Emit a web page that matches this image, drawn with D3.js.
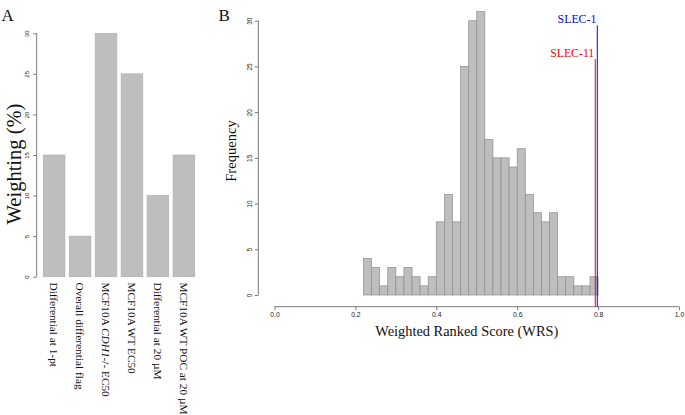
<!DOCTYPE html>
<html><head><meta charset="utf-8">
<script src="https://cdn.jsdelivr.net/npm/d3@7"></script>
<style>
html,body{margin:0;padding:0;background:#fff;}
svg{display:block;}
</style></head>
<body>
<svg id="chart" width="685" height="415"></svg>
<script>
// ---- Panel A data ----
const weightCategories = [
  "Differential at 1-pt",
  "Overall differential flag",
  "MCF10A CDH1-/- EC50",
  "MCF10A WT EC50",
  "Differential at  20 \u00B5M",
  "MCF10A WT POC at 20 \u00B5M"
];
const weightValues = [15, 5, 30, 25, 10, 15];
const weightTicks = [0, 5, 10, 15, 20, 25, 30];

// ---- Panel B data ----
const binStarts = [0.22,0.24,0.26,0.28,0.30,0.32,0.34,0.36,0.38,0.40,0.42,0.44,0.46,0.48,0.50,0.52,0.54,0.56,0.58,0.60,0.62,0.64,0.66,0.68,0.70,0.72,0.74,0.76,0.78];
const binCounts = [4,3,1,3,2,3,2,1,2,8,11,8,25,30,31,17,15,15,14,16,11,9,8,9,2,2,1,1,2];
const binWidth = 0.02;
const freqTicks = [0, 5, 10, 15, 20, 25, 30];
const wrsTicks = [0.0, 0.2, 0.4, 0.6, 0.8, 1.0];
const slecNames = ["SLEC-1", "SLEC-11"];
const slecScores = [0.798, 0.793];
const slecHeights = [29.5, 25.8];
const slecColors = ["#0000ff", "#ff0000"];

const svg = d3.select("#chart");
const serif = "'Liberation Serif', 'Times New Roman', serif";
const sans = "'Liberation Sans', Arial, sans-serif";
const axisCol = "#7a7a7a";
const tickTextCol = "#222";

// ================= Panel A =================
const yA = d3.scaleLinear().domain([0, 30]).range([276.7, 33.3]);
const xA = d3.scaleBand().domain(weightCategories).range([43.3, 194.7]).paddingInner(1/6).paddingOuter(0);

const gA = svg.append("g");
gA.selectAll("rect.wbar").data(weightValues).enter().append("rect")
  .attr("class", "wbar")
  .attr("x", (d, i) => xA(weightCategories[i]))
  .attr("width", xA.bandwidth())
  .attr("y", d => yA(d))
  .attr("height", d => yA(0) - yA(d))
  .attr("fill", "#bebebe")
  .attr("stroke", "#b0b0b0")
  .attr("stroke-width", 0.7);

// y axis A
const axA = gA.append("g").attr("transform", "translate(36.7,0)")
  .call(d3.axisLeft(yA).tickValues(weightTicks).tickSize(3.5).tickPadding(4).tickFormat(d3.format("d")));
axA.select(".domain").attr("stroke", axisCol).attr("d", `M0,${yA(0)}V${yA(30)}`);
axA.selectAll(".tick line").attr("stroke", axisCol);
axA.selectAll(".tick text")
  .attr("font-family", sans).attr("font-size", 6).attr("fill", tickTextCol)
  .attr("text-anchor", "middle").attr("dy", null)
  .attr("transform", "rotate(-90)")
  .attr("x", 0).attr("y", -7.5);

// category labels (rotated, reading downward)
const catLabels = gA.selectAll("text.cat").data(weightCategories).enter().append("text")
  .attr("class", "cat")
  .attr("transform", d => `translate(${xA(d) + xA.bandwidth()/2},282.5) rotate(90)`)
  .attr("dominant-baseline", "central")
  .attr("font-family", serif).attr("font-size", 11.3).attr("fill", "#111");
catLabels.each(function(d) {
  const t = d3.select(this);
  if (d.indexOf("CDH1") >= 0) {
    t.append("tspan").text("MCF10A ");
    t.append("tspan").attr("font-style", "italic").text("CDH1");
    t.append("tspan").text("-/- EC50");
  } else {
    t.text(d);
  }
});

gA.append("text")
  .attr("transform", `translate(21,164) rotate(-90)`)
  .attr("text-anchor", "middle")
  .attr("font-family", serif).attr("font-size", 20.5).attr("fill", "#111")
  .text("Weighting (%)");

svg.append("text").attr("x", 1.5).attr("y", 20.5)
  .attr("font-family", serif).attr("font-size", 17).attr("fill", "#111").text("A");

// ================= Panel B =================
const xB = d3.scaleLinear().domain([0, 1]).range([274.5, 679]);
const yB = d3.scaleLinear().domain([0, 30]).range([295, 20.7]);
const gB = svg.append("g");

gB.selectAll("rect.hbar").data(binCounts).enter().append("rect")
  .attr("class", "hbar")
  .attr("x", (d, i) => xB(binStarts[i]))
  .attr("width", (d, i) => xB(binStarts[i] + binWidth) - xB(binStarts[i]))
  .attr("y", d => yB(d))
  .attr("height", d => yB(0) - yB(d))
  .attr("fill", "#bebebe")
  .attr("stroke", "#8e8e8e")
  .attr("stroke-width", 0.7);

// x axis B
const axBx = gB.append("g").attr("transform", "translate(0,306.7)")
  .call(d3.axisBottom(xB).tickValues(wrsTicks).tickSize(3.5).tickPadding(1.5).tickFormat(d3.format(".1f")));
axBx.select(".domain").attr("stroke", axisCol).attr("d", `M${xB(0)},0H${xB(1)}`);
axBx.selectAll(".tick line").attr("stroke", axisCol);
axBx.selectAll(".tick text").attr("font-family", sans).attr("font-size", 6.8).attr("fill", tickTextCol);

// y axis B
const axBy = gB.append("g").attr("transform", "translate(258.3,0)")
  .call(d3.axisLeft(yB).tickValues(freqTicks).tickSize(3.5).tickFormat(d3.format("d")));
axBy.select(".domain").attr("stroke", axisCol).attr("d", `M0,${yB(0)}V${yB(30)}`);
axBy.selectAll(".tick line").attr("stroke", axisCol);
axBy.selectAll(".tick text")
  .attr("font-family", sans).attr("font-size", 6.5).attr("fill", tickTextCol)
  .attr("text-anchor", "middle").attr("dy", null)
  .attr("transform", "rotate(-90)")
  .attr("x", 0).attr("y", -6.5);

// SLEC lines
slecScores.forEach((s, i) => {
  gB.append("line")
    .attr("x1", xB(s)).attr("x2", xB(s))
    .attr("y1", yB(slecHeights[i])).attr("y2", 306.7)
    .attr("stroke", slecColors[i]).attr("stroke-width", 1);
  gB.append("text")
    .attr("x", xB(s) - 1).attr("y", yB(slecHeights[i]) - 2)
    .attr("text-anchor", "end")
    .attr("font-family", serif).attr("font-size", 11.8)
    .attr("fill", slecColors[i]).text(slecNames[i]);
});

gB.append("text")
  .attr("x", (xB(0) + xB(1)) / 2 - 10).attr("y", 335.5)
  .attr("text-anchor", "middle")
  .attr("font-family", serif).attr("font-size", 14.4).attr("fill", "#111")
  .text("Weighted Ranked Score (WRS)");

gB.append("text")
  .attr("transform", `translate(236,151) rotate(-90)`)
  .attr("text-anchor", "middle")
  .attr("font-family", serif).attr("font-size", 14.6).attr("fill", "#111")
  .text("Frequency");

svg.append("text").attr("x", 218.5).attr("y", 20.5)
  .attr("font-family", serif).attr("font-size", 17).attr("fill", "#111").text("B");
</script>
</body></html>
